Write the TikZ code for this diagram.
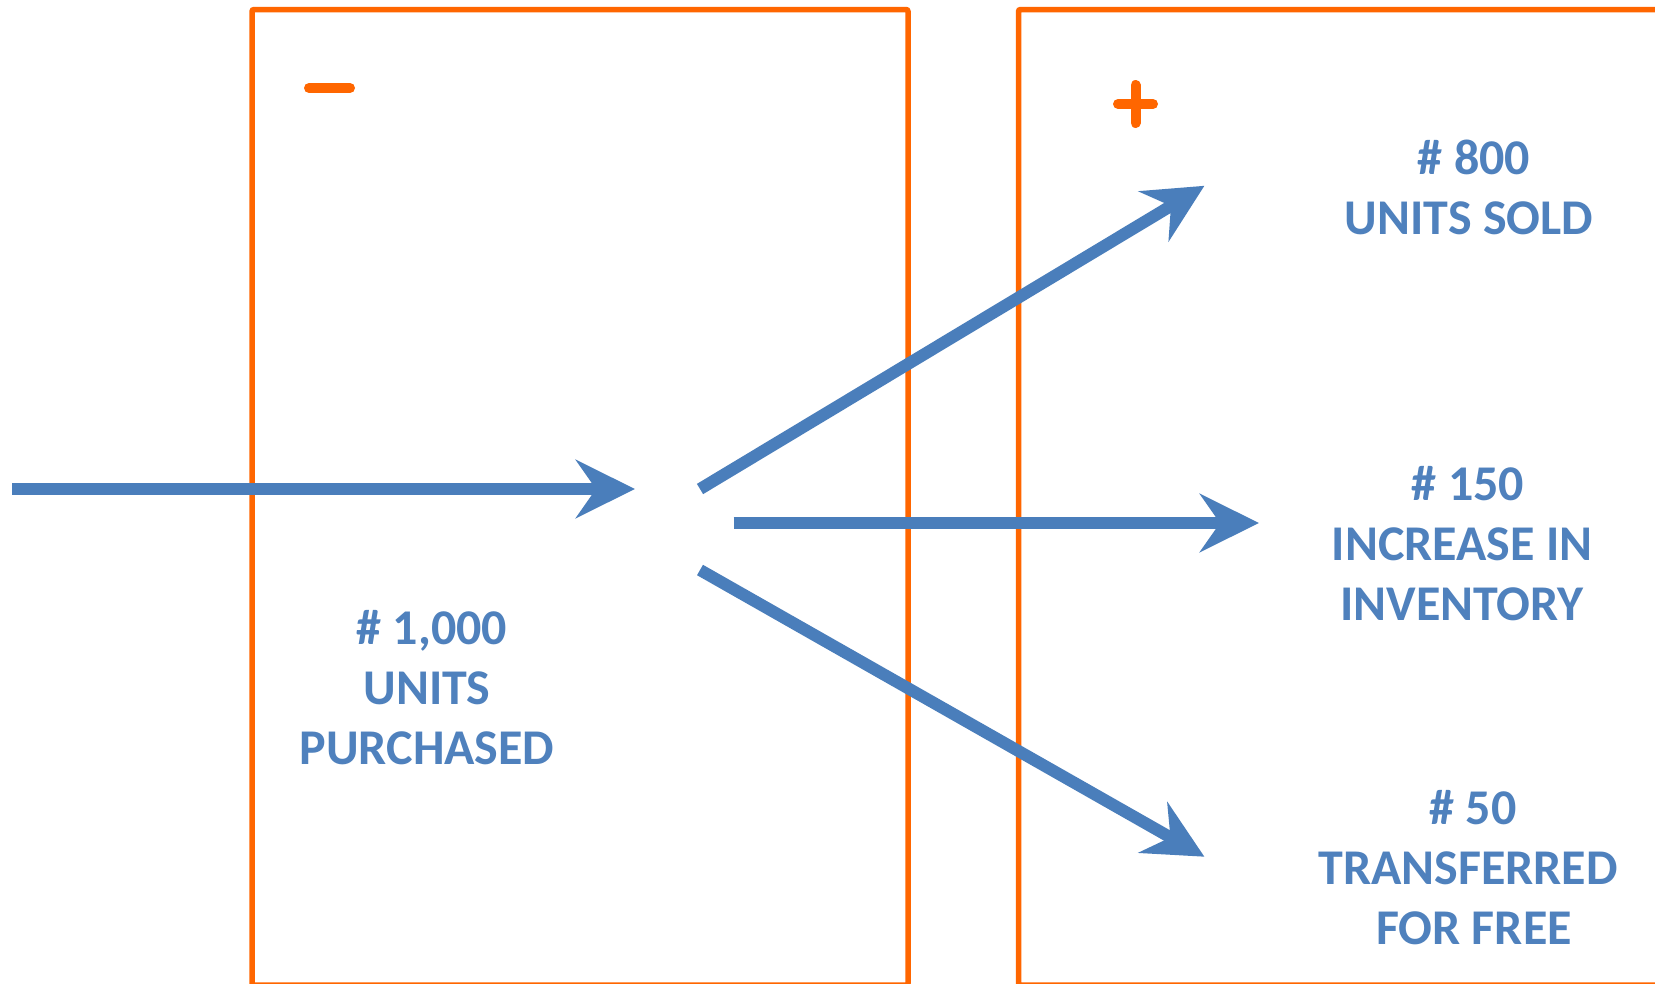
\documentclass[tikz,border=0pt]{standalone}
\usepackage{fontspec}
\setmainfont{Carlito}
\usetikzlibrary{arrows.meta}
\definecolor{boxorange}{RGB}{255,102,0}
\definecolor{flowblue}{RGB}{74,126,187}
\definecolor{textblue}{RGB}{79,129,189}
\tikzset{
  boxline/.style={draw=boxorange, line width=5.5pt, rounded corners=2pt},
  signline/.style={draw=boxorange, line width=10pt, line cap=round},
  flow/.style={draw=flowblue, line width=12pt, -{Stealth[length=59pt, width=58pt, inset=20pt]}},
  lbl/.style={text=textblue, font=\fontsize{50}{60}\selectfont\bfseries, align=center, inner sep=0pt}
}
\begin{document}
\begin{tikzpicture}[x=1pt,y=-1pt]
\useasboundingbox (0,0) rectangle (1655,983);
\clip (0,0) rectangle (1655,983);
\fill[white] (0,0) rectangle (1655,983);
% boxes
\draw[boxline] (252,985) rectangle (908,9.5);
\draw[boxline] (1018.5,985) rectangle (1670,9.5);
% signs
\draw[signline] (309,88) -- (350,88);
\draw[signline] (1118,104) -- (1153,104);
\draw[signline] (1135.5,85) -- (1135.5,123);
% coordinates
\coordinate (inS) at (12,489);
\coordinate (inT) at (635,489);
\coordinate (upS) at (700,489);
\coordinate (upT) at (1204.4,185.8);
\coordinate (midS) at (733.5,523);
\coordinate (midT) at (1259,523);
\coordinate (dnS) at (700,570);
\coordinate (dnT) at (1204.4,856.7);
% arrows
\draw[flow] (inS) -- (inT);
\draw[flow] (upS) -- (upT);
\draw[flow] (midS) -- (midT);
\draw[flow] (dnS) -- (dnT);
% labels
\node[lbl] (purchased) at (427,688) {\hspace*{10pt}\# 1,000\\UNITS\\PURCHASED};
\node[lbl] (sold) at (1469,187) {\hspace*{10pt}\# 800\\UNITS SOLD};
\node[lbl] (inventory) at (1462,544) {\hspace*{12pt}\# 150\\INCREASE IN\\INVENTORY};
\node[lbl] (free) at (1468,868) {\hspace*{10pt}\# 50\\TRANSFERRED\\\hspace*{12pt}FOR FREE};
\end{tikzpicture}
\end{document}
